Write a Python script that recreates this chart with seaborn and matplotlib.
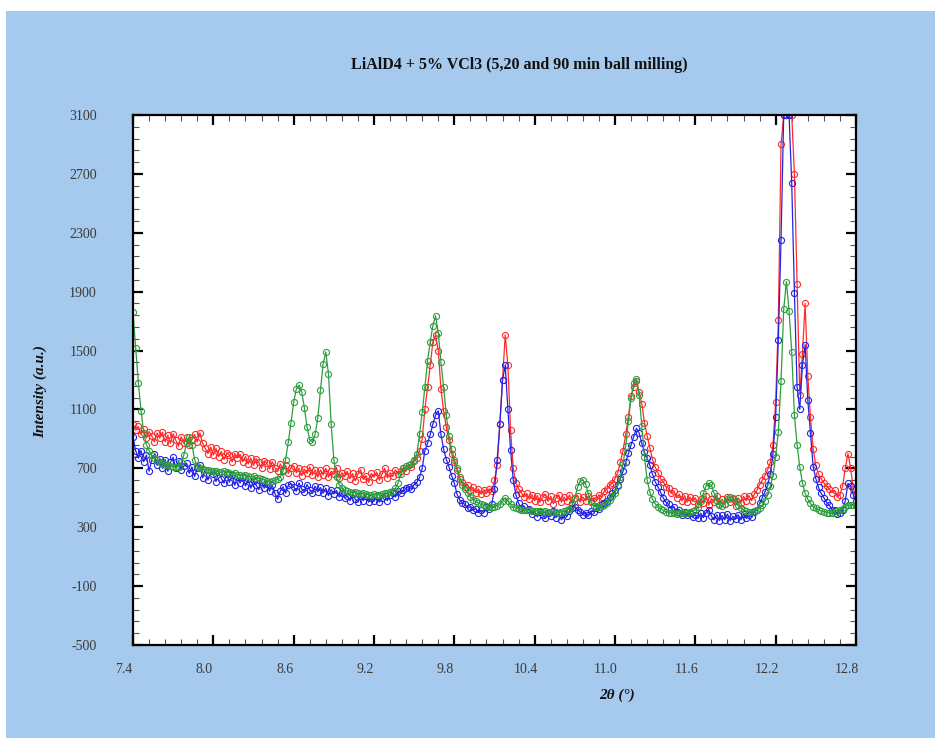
import numpy as np
import pandas as pd
import matplotlib
matplotlib.use("Agg")
import matplotlib.pyplot as plt
import seaborn as sns
from matplotlib.patches import Rectangle
from matplotlib.ticker import FixedLocator, FixedFormatter
from matplotlib.transforms import ScaledTranslation

# XRD scan grid (2-theta, degrees)
scan_start = 7.40
scan_step = 0.02

# Intensities (a.u.), one row per 0.2 degree of 2-theta
int_5min = [
    1000, 960, 985, 930, 965, 905, 950, 920, 880, 940,
    905, 945, 880, 925, 870, 935, 890, 850, 915, 870,
    910, 860, 895, 930, 880, 940, 870, 835, 800, 845,
    790, 835, 780, 815, 760, 805, 790, 745, 800, 770,
    795, 745, 780, 730, 770, 720, 765, 740, 700, 750,
    735, 695, 745, 705, 680, 730, 690, 720, 665, 705,
    715, 670, 700, 650, 695, 665, 710, 655, 690, 640,
    690, 655, 700, 640, 680, 660, 705, 635, 670, 645,
    680, 630, 665, 615, 660, 690, 625, 650, 605, 665,
    640, 675, 620, 660, 700, 635, 670, 645, 690, 660,
    680, 705, 680, 725, 710, 750, 770, 820, 900, 1100,
    1250, 1400, 1560, 1606, 1500, 1240, 1090, 980, 890, 800,
    740, 690, 625, 610, 575, 590, 550, 570, 535, 560,
    525, 555, 530, 560, 545, 620, 720, 1000, 1300, 1606,
    1400, 960, 700, 600, 560, 535, 505, 530, 490, 520,
    480, 515, 470, 505, 525, 475, 510, 460, 500, 520,
    470, 505, 480, 520, 465, 500, 515, 470, 505, 480,
    510, 475, 500, 485, 520, 505, 545, 560, 585, 600,
    630, 670, 740, 820, 930, 1050, 1190, 1250, 1295, 1220,
    1140, 1010, 920, 840, 760, 710, 670, 630, 610, 575,
    565, 530, 545, 500, 525, 480, 515, 470, 505, 475,
    500, 455, 490, 465, 510, 450, 495, 470, 515, 460,
    490, 455, 505, 470, 495, 445, 500, 465, 510, 480,
    515, 480, 525, 550, 590, 620, 650, 690, 740, 860,
    1150, 1708, 2900, 3100, 3100, 3100, 3100, 2700, 1950, 1200,
    1480, 1821, 1330, 1050, 830, 720, 660, 630, 600, 580,
    560, 535, 550, 505, 520, 580, 700, 800, 700, 560,
    510,
]

int_20min = [
    910, 820, 770, 820, 745, 790, 680, 760, 795, 720,
    765, 700, 760, 680, 740, 775, 700, 750, 690, 715,
    735, 665, 710, 645, 700, 725, 635, 690, 620, 680,
    660, 610, 675, 630, 600, 660, 605, 655, 585, 640,
    600, 640, 580, 625, 565, 615, 585, 555, 610, 565,
    595, 545, 585, 530, 490, 545, 575, 530, 585, 595,
    575, 545, 600, 560, 540, 590, 555, 530, 580, 540,
    570, 530, 565, 515, 555, 525, 550, 505, 535, 500,
    510, 480, 525, 490, 470, 510, 480, 515, 470, 500,
    475, 510, 470, 500, 515, 480, 520, 530, 505, 545,
    530, 550, 565, 575, 560, 590, 605, 640, 700, 820,
    870, 930, 1000, 1062, 1090, 930, 830, 760, 711, 650,
    600, 525, 485, 465, 455, 430, 440, 415, 425, 400,
    415, 400, 435, 425, 460, 560, 760, 1000, 1300, 1400,
    1100, 825, 621, 520, 462, 430, 445, 415, 425, 390,
    410, 370, 405, 380, 360, 400, 375, 410, 365, 395,
    350, 390, 375, 410, 430, 440, 420, 405, 385, 400,
    380, 410, 405, 430, 425, 455, 462, 480, 505, 530,
    553, 590, 630, 680, 740, 802, 860, 915, 972, 940,
    870, 810, 770, 720, 660, 610, 575, 540, 500, 470,
    455, 425, 440, 405, 420, 385, 405, 380, 395, 370,
    385, 360, 395, 365, 400, 420, 375, 350, 385, 345,
    380, 350, 390, 345, 375, 355, 385, 350, 390, 360,
    385, 370, 405, 420, 462, 500, 540, 590, 660, 800,
    1050, 1572, 2251, 3100, 3100, 3100, 2636, 1889, 1255, 1100,
    1400, 1540, 1164, 938, 711, 630, 570, 530, 500, 470,
    450, 420, 415, 390, 400, 420, 480, 598, 580, 520,
    480,
]

int_90min = [
    1760, 1520, 1280, 1090, 940, 860, 820, 790, 770, 755,
    740, 735, 725, 720, 718, 712, 708, 712, 740, 790,
    870, 915, 860, 760, 715, 700, 695, 690, 688, 684,
    680, 685, 676, 672, 680, 675, 668, 662, 665, 658,
    655, 650, 655, 648, 640, 645, 636, 632, 630, 622,
    615, 610, 612, 618, 625, 640, 680, 760, 880, 1010,
    1150, 1240, 1266, 1220, 1110, 980, 895, 880, 930, 1040,
    1230, 1410, 1490, 1340, 1000, 760, 640, 590, 565, 550,
    545, 540, 535, 538, 530, 528, 532, 525, 522, 520,
    524, 518, 522, 528, 530, 534, 540, 548, 565, 600,
    660, 700, 715, 722, 730, 760, 800, 930, 1080, 1250,
    1430, 1560, 1670, 1735, 1620, 1420, 1250, 1060, 920, 830,
    760, 705, 640, 590, 560, 530, 505, 488, 475, 465,
    455, 450, 442, 440, 438, 440, 445, 455, 480, 500,
    480, 455, 440, 430, 425, 420, 418, 415, 414, 412,
    410, 412, 408, 405, 408, 404, 402, 405, 403, 400,
    405, 410, 415, 425, 450, 500, 570, 615, 620, 595,
    530, 470, 445, 440, 438, 442, 450, 465, 485, 510,
    535, 580, 640, 730, 850, 1020, 1180, 1280, 1310, 1200,
    990, 780, 620, 540, 490, 460, 440, 425, 415, 405,
    400, 396, 395, 392, 395, 398, 396, 400, 405, 410,
    420, 440, 475, 530, 580, 598, 585, 530, 480, 450,
    445, 460, 490, 505, 500, 475, 450, 430, 418, 410,
    405, 405, 410, 420, 430, 450, 480, 520, 580, 650,
    780, 950, 1290, 1780, 1968, 1770, 1490, 1060, 860, 710,
    600, 530, 490, 462, 440, 428, 418, 410, 405, 400,
    398, 395, 400, 410, 415, 425, 440, 448, 450, 450,
    452,
]

series_names = ["5 min", "20 min", "90 min"]
series_colors = ["#FF2A2A", "#2323E6", "#2E9E3E"]

x_ticks = [7.4, 8.0, 8.6, 9.2, 9.8, 10.4, 11.0, 11.6, 12.2, 12.8]
x_tick_labels = ["7.4", "8.0", "8.6", "9.2", "9.8", "10.4", "11.0", "11.6", "12.2", "12.8"]
y_ticks = [-500, -100, 300, 700, 1100, 1500, 1900, 2300, 2700, 3100]
y_tick_labels = ["-500", "-100", "300", "700", "1100", "1500", "1900", "2300", "2700", "3100"]

title_text = "LiAlD4 + 5% VCl3 (5,20 and 90 min ball milling)"
x_label = "2θ (°)"
y_label = "Intensity (a.u.)"

assert len(int_5min) == len(int_20min) == len(int_90min)
two_theta = np.round(scan_start + scan_step * np.arange(len(int_5min)), 2)

frames = []
for name, vals in zip(series_names, [int_5min, int_20min, int_90min]):
    frames.append(pd.DataFrame({"two_theta": two_theta, "intensity": vals, "sample": name}))
data = pd.concat(frames, ignore_index=True)

sns.set_style("ticks")
plt.rcParams["font.family"] = ["Liberation Serif", "DejaVu Serif"]

W, H = 935, 738
fig = plt.figure(figsize=(W / 100, H / 100), dpi=100)
fig.patch.set_facecolor("white")
fig.add_artist(Rectangle((6 / W, 0), 1 - 6 / W, (H - 11) / H, transform=fig.transFigure,
                         facecolor="#A6CAEE", edgecolor="none", zorder=-1))

ax = fig.add_axes([133 / W, 1 - 645 / H, 723 / W, 530 / H])
ax.set_facecolor("white")

for name, color in zip(series_names, series_colors):
    sns.lineplot(data=data[data["sample"] == name], x="two_theta", y="intensity",
                 ax=ax, color=color, lw=0.9, marker="o", markersize=4.4,
                 markerfacecolor="none", markeredgecolor=color, markeredgewidth=0.8,
                 estimator=None, sort=False, legend=False)

ax.set_xlim(7.4, 12.8)
ax.set_ylim(-500, 3100)
ax.xaxis.set_major_locator(FixedLocator(x_ticks))
ax.xaxis.set_major_formatter(FixedFormatter(x_tick_labels))
ax.yaxis.set_major_locator(FixedLocator(y_ticks))
ax.yaxis.set_major_formatter(FixedFormatter(y_tick_labels))
ax.xaxis.set_minor_locator(FixedLocator(np.round(np.arange(7.4, 12.81, 0.12), 2)))
ax.yaxis.set_minor_locator(FixedLocator(np.arange(-500, 3101, 80)))
ax.set_xlabel("")
ax.set_ylabel("")

ax.tick_params(which="both", direction="in", top=True, right=True,
               labelsize=10, labelcolor="#3a3a3a")
ax.tick_params(which="major", length=7, width=1.6, color="black")
ax.tick_params(which="minor", length=4, width=0.8, color="#555555")
ax.tick_params(axis="y", pad=26)
ax.tick_params(axis="x", pad=13)
for sp in ax.spines.values():
    sp.set_linewidth(1.6)
    sp.set_color("black")

shift = ScaledTranslation(-9 / 100, 0, fig.dpi_scale_trans)
for lab in ax.get_xticklabels():
    lab.set_transform(lab.get_transform() + shift)

fig.text(519 / W, 1 - 65 / H, title_text, ha="center", va="center",
         fontsize=11.5, fontweight="bold", color="#111111")
fig.text(617 / W, 1 - 695 / H, x_label, ha="center", va="center",
         fontsize=11, fontweight="bold", fontstyle="italic", color="#111111")
fig.text(40 / W, 1 - 392 / H, y_label, ha="center", va="center", rotation=90,
         fontsize=11, fontweight="bold", fontstyle="italic", color="#111111")

fig.savefig("out.png", dpi=100, facecolor=fig.get_facecolor())
